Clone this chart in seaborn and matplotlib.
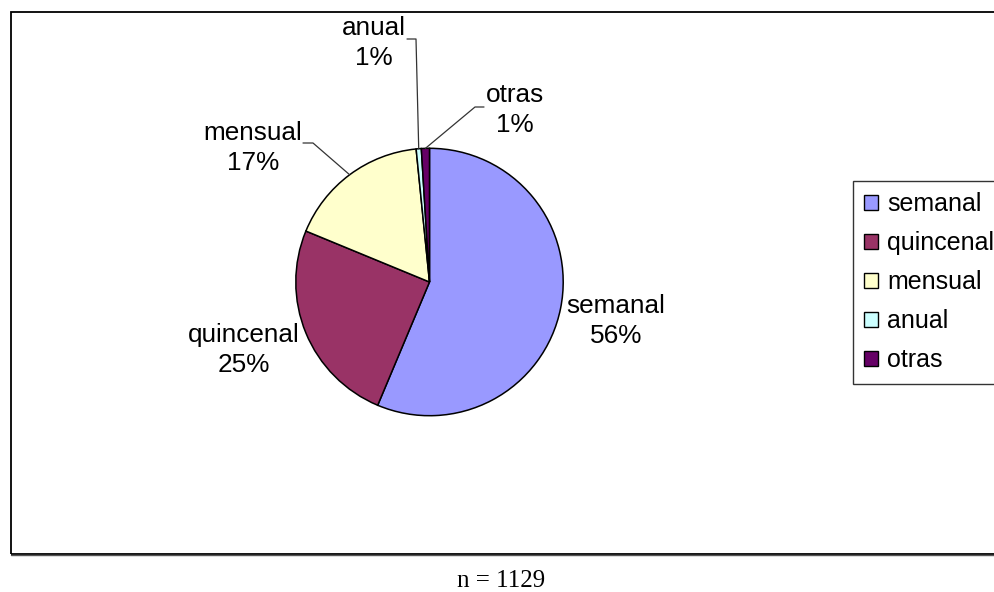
import matplotlib
matplotlib.use("Agg")
import numpy as np
import matplotlib.pyplot as plt
from matplotlib.patches import Patch, Rectangle
from matplotlib.lines import Line2D
import seaborn as sns

# Payment frequency, counts of respondents
categories = ["semanal", "quincenal", "mensual", "anual", "otras"]
counts = [636, 281, 194, 7, 11]
total_n = 1129
slice_colors = ["#9999FF", "#993366", "#FFFFCC", "#CCFFFF", "#660066"]

sns.set_theme(style="white")
plt.rcParams["font.family"] = ["Liberation Sans", "DejaVu Sans"]
plt.rcParams["text.color"] = "black"

W, H = 995, 592
fig = plt.figure(figsize=(W / 100, H / 100), dpi=100)
fig.patch.set_facecolor("white")


def fx(px):
    return px / W


def fy(py):
    return 1 - py / H


# chart area border (runs off the right edge)
frame = Rectangle((fx(10.7), fy(554)), fx(1100), fy(11.7) - fy(554),
                  transform=fig.transFigure, fill=False, edgecolor="black",
                  lw=1.3, clip_on=False)
fig.patches.append(frame)
fig.lines.append(Line2D([fx(10.7), fx(1100)], [fy(555.2), fy(555.2)],
                        transform=fig.transFigure, color="#555555", lw=1.0))

# pie
cx, cy, R = 429.5, 282.0, 133.7
ax = fig.add_axes([fx(cx - R), fy(cy + R), 2 * R / W, 2 * R / H])
palette = sns.color_palette(slice_colors)
wedges, _ = ax.pie(counts, colors=palette, startangle=90, counterclock=False,
                   wedgeprops=dict(edgecolor="black", linewidth=1.1))
ax.set_xlim(-1, 1)
ax.set_ylim(-1, 1)
ax.set_aspect("equal")
ax.axis("off")

# data labels (anchored at the baseline of the percentage line, in pixels)
label_pos = {
    "semanal": (616, 343),
    "quincenal": (244, 372),
    "mensual": (253, 170),
    "anual": (374, 65),
    "otras": (515, 132),
}
for cat, c in zip(categories, counts):
    pct = round(100 * c / total_n)
    px, py = label_pos[cat]
    fig.text(fx(px), fy(py), f"{cat}\n{pct}%", ha="center", va="baseline",
             fontsize=18.8, color="black", linespacing=1.33, multialignment="center")

# leader lines from the slice edge to the label
elbows = {
    "mensual": [(313, 143), (303, 143)],
    "anual": [(416, 39), (407, 39)],
    "otras": [(475, 107), (484, 107)],
}
for w, cat in zip(wedges, categories):
    if cat not in elbows:
        continue
    mid = np.deg2rad((w.theta1 + w.theta2) / 2)
    sx = cx + R * np.cos(mid)
    sy = cy - R * np.sin(mid)
    pts = [(sx, sy)] + elbows[cat]
    fig.lines.append(Line2D([fx(p[0]) for p in pts], [fy(p[1]) for p in pts],
                            transform=fig.transFigure, color="#333333", lw=0.9))

# legend
handles = [Patch(facecolor=col, edgecolor="black", linewidth=1.0) for col in slice_colors]
leg = fig.legend(handles, categories, loc="upper left",
                 bbox_to_anchor=(fx(853), fy(181)), bbox_transform=fig.transFigure,
                 fontsize=18, frameon=True, fancybox=False, edgecolor="black",
                 borderpad=0.45, borderaxespad=0, handlelength=0.56, handleheight=0.56,
                 handletextpad=0.36, labelspacing=0.6, labelcolor="black")
leg.get_frame().set_linewidth(1.0)

fig.text(fx(501), fy(587), f"n = {total_n}", ha="center", va="baseline",
         fontsize=18, color="black", family=["Liberation Serif", "DejaVu Serif"])

fig.savefig("out.png", dpi=100)
